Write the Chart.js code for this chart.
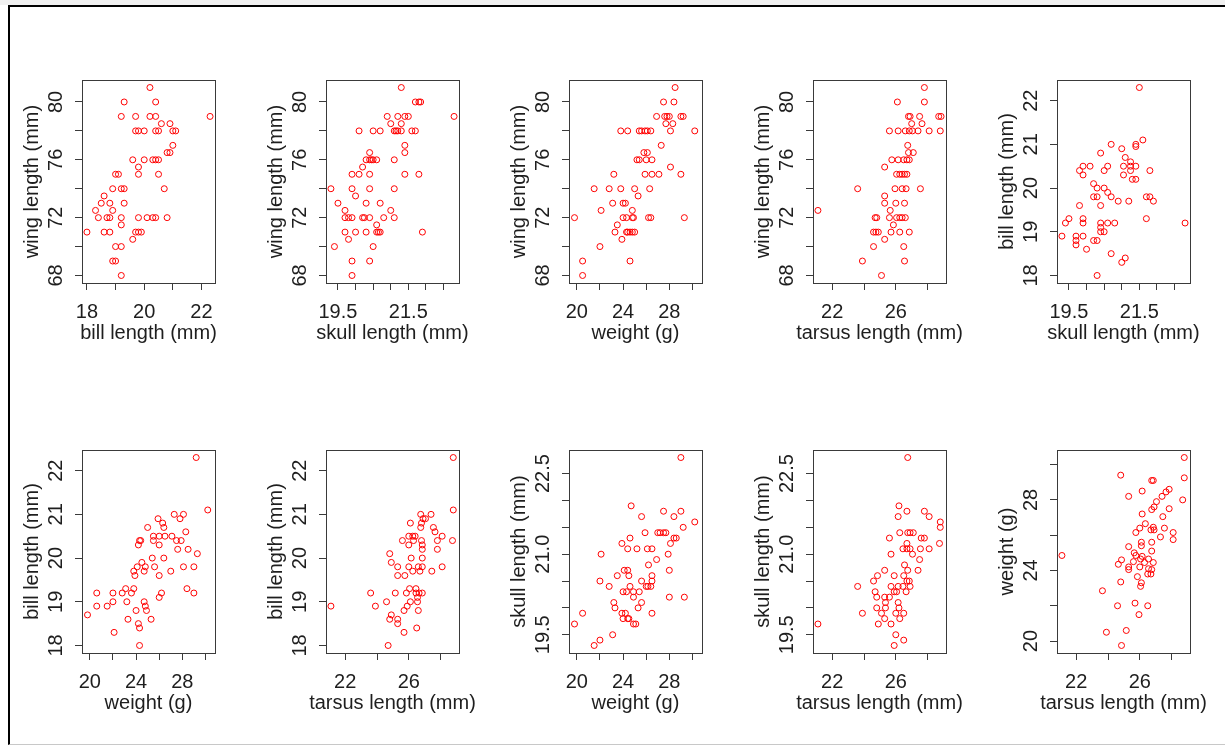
<!DOCTYPE html>
<html>
<head>
<meta charset="utf-8">
<script src="https://cdn.jsdelivr.net/npm/chart.js@4.4.0/dist/chart.umd.min.js"></script>
<style>
  html, body { margin: 0; padding: 0; background: #fff; }
  #page { position: relative; width: 1225px; height: 746px; overflow: hidden; background: #fff; }
  #band { position: absolute; left: 0; top: 0; width: 1225px; height: 5px; background: #f0f0f0; }
  #frame { position: absolute; left: 8px; top: 5px; width: 1217px; height: 740px; box-sizing: border-box;
           border-left: 2px solid #000; border-top: 2px solid #000; border-bottom: 1px solid #c8c8c8; }
  canvas { position: absolute; }
</style>
</head>
<body>
<div id="page"><div id="band"></div><div id="frame"></div></div>
<script>
// panel 1: bill vs wing
const bill1 = [20.2,
  19.3, 20.4,
  19.2, 19.7, 20.2, 20.4, 22.3,
  20.6, 20.9,
  19.7, 19.8, 20.0, 20.4, 20.5, 21.0, 21.1,
  21.0,
  20.8, 20.9,
  19.6, 20.0, 20.3, 20.4, 20.5,
  19.8,
  19.0, 19.1, 19.8, 20.5,
  18.9, 19.2, 19.3, 20.7,
  18.6,
  18.5, 18.8, 19.3,
  18.3, 18.9,
  18.4, 18.7, 18.8, 19.2, 19.8, 20.1, 20.3, 20.4, 20.8,
  19.2,
  18.0, 18.6, 18.8, 19.7, 19.8, 19.9,
  19.6,
  19.0, 19.2,
  18.9, 19.0,
  19.2];
const wing1 = [81,
  80, 80,
  79, 79, 79, 79, 79,
  78.5, 78.5,
  78, 78, 78, 78, 78, 78, 78,
  77,
  76.5, 76.5,
  76, 76, 76, 76, 76,
  75.5,
  75, 75, 75, 75,
  74, 74, 74, 74,
  73.5,
  73, 73, 73,
  72.5, 72.5,
  72, 72, 72, 72, 72, 72, 72, 72, 72,
  71.5,
  71, 71, 71, 71, 71, 71,
  70.5,
  70, 70,
  69, 69,
  68];

// panel 2: skull vs wing
const skull2 = [21.3,
  21.7, 21.8, 21.85,
  20.9, 21.2, 21.4, 21.5, 22.8,
  21.0, 21.3,
  20.1, 20.5, 20.7, 21.1, 21.15, 21.2, 21.3, 21.6, 21.7,
  21.4,
  21.4, 20.4,
  20.3, 20.4, 20.45, 20.5, 20.6, 21.1,
  20.2,
  19.9, 20.1, 20.4, 21.4, 21.8,
  19.3, 19.9, 20.4, 21.1,
  20.0,
  19.5, 20.3, 20.7,
  19.7, 21.0,
  19.7, 19.8, 19.9, 20.2, 20.25, 20.4, 20.8, 21.1,
  20.6,
  19.7, 20.0, 20.3, 20.6, 20.65, 20.7, 21.9,
  19.8,
  19.4, 20.5,
  19.9, 20.4,
  19.9];
const wing2 = [81,
  80, 80, 80,
  79, 79, 79, 79, 79,
  78.5, 78.5,
  78, 78, 78, 78, 78, 78, 78, 78, 78,
  77,
  76.5, 76.5,
  76, 76, 76, 76, 76, 76,
  75.5,
  75, 75, 75, 75, 75,
  74, 74, 74, 74,
  73.5,
  73, 73, 73,
  72.5, 72.5,
  72, 72, 72, 72, 72, 72, 72, 72,
  71.5,
  71, 71, 71, 71, 71, 71, 71,
  70.5,
  70, 70,
  69, 69,
  68];

// panel 3: weight vs wing
const weight3 = [28.5,
  27.5, 28.4,
  26.9, 27.6, 27.8, 28.0, 29.0, 29.2,
  27.7, 28.3,
  23.8, 24.4, 25.4, 25.6, 25.9, 26.1, 26.4, 28.1, 30.2,
  27.3,
  25.8, 26.1,
  25.2, 25.4, 26.0, 26.5,
  28.1,
  23.2, 25.9, 26.5, 27.1, 29.0,
  21.5, 22.8, 23.8, 25.0, 26.3,
  25.3,
  23.1, 24.0, 24.2,
  22.1, 24.8,
  19.8, 24.0, 24.3, 24.8, 24.9, 26.2, 26.4, 29.3,
  23.5,
  23.3, 24.3, 24.4, 24.6, 24.8, 25.0,
  23.9,
  22.0,
  20.5, 24.6,
  20.5];
const wing3 = [81,
  80, 80,
  79, 79, 79, 79, 79, 79,
  78.5, 78.5,
  78, 78, 78, 78, 78, 78, 78, 78, 78,
  77,
  76.5, 76.5,
  76, 76, 76, 76,
  75.5,
  75, 75, 75, 75, 75,
  74, 74, 74, 74, 74,
  73.5,
  73, 73, 73,
  72.5, 72.5,
  72, 72, 72, 72, 72, 72, 72, 72,
  71.5,
  71, 71, 71, 71, 71, 71,
  70.5,
  70,
  69, 69,
  68];

// panel 4: tarsus vs wing
const tarsus4 = [27.8,
  26.1, 27.8,
  26.8, 26.9, 27.5, 28.7, 28.85,
  27.0, 27.65,
  25.6, 26.15, 26.6, 26.85, 27.05, 27.4, 28.1, 28.8,
  26.75,
  26.8, 27.1,
  25.75, 26.15, 26.5, 26.7, 26.85,
  25.3,
  26.05, 26.25, 26.4, 26.55, 26.7,
  23.6, 25.95, 26.4, 26.65, 27.55,
  25.3,
  25.3, 26.0, 26.55,
  21.1, 25.65,
  24.7, 24.8, 25.6, 26.05, 26.25, 26.4, 26.6,
  25.85,
  24.6, 24.75, 24.9, 25.7, 26.25, 26.85,
  25.3,
  24.6, 26.5,
  23.9, 26.55,
  25.1];
const wing4 = [81,
  80, 80,
  79, 79, 79, 79, 79,
  78.5, 78.5,
  78, 78, 78, 78, 78, 78, 78, 78,
  77,
  76.5, 76.5,
  76, 76, 76, 76, 76,
  75.5,
  75, 75, 75, 75, 75,
  74, 74, 74, 74, 74,
  73.5,
  73, 73, 73,
  72.5, 72.5,
  72, 72, 72, 72, 72, 72, 72,
  71.5,
  71, 71, 71, 71, 71, 71,
  70.5,
  70, 70,
  69, 69,
  68];

// panel 5: skull vs bill
const skull5 = [21.5, 21.6, 20.7, 21.4, 21.4, 21.0, 20.4, 21.1, 21.25,
  19.9, 20.1, 20.6, 21.05, 21.25, 21.4,
  19.8, 20.5, 21.25, 21.8,
  19.9, 21.05,
  21.3, 21.4,
  20.2, 20.3, 20.5, 20.6,
  20.2, 20.3, 20.7, 21.7, 21.8,
  20.9, 21.2, 21.9,
  19.8, 20.4,
  19.5, 19.9, 21.7,
  19.4, 19.9, 20.4, 20.6, 20.8, 22.8,
  20.4, 20.4, 20.5,
  19.3, 19.7, 19.9,
  19.7, 20.2, 20.3,
  19.7, 20.0, 20.7, 21.1, 21.0, 20.3];
const bill5 = [22.3, 21.1, 21.0, 21.0, 20.95, 20.9, 20.8, 20.7, 20.6,
  20.5, 20.5, 20.5, 20.5, 20.5, 20.5,
  20.4, 20.4, 20.4, 20.4,
  20.3, 20.3,
  20.2, 20.2,
  20.1, 20.0, 20.0, 19.9,
  19.8, 19.8, 19.8, 19.8, 19.8,
  19.7, 19.7, 19.7,
  19.6, 19.6,
  19.3, 19.3, 19.3,
  19.2, 19.2, 19.2, 19.2, 19.2, 19.2,
  19.1, 19.0, 19.0,
  18.9, 18.9, 18.9,
  18.8, 18.8, 18.8,
  18.7, 18.6, 18.5, 18.4, 18.3, 18.0];

// panel 6: weight vs bill
const weight6 = [29.2, 30.2, 27.3, 28.1, 25.9, 27.8, 26.3, 26.4, 25.0, 28.3,
  25.5, 26.0, 26.5, 27.1,
  24.3, 24.4, 25.5, 27.5, 27.9,
  24.2, 26.0,
  27.6, 28.5, 29.3,
  25.4, 26.4, 24.5,
  24.1, 24.8, 25.6, 28.1, 29.0,
  23.8, 24.7, 27.0,
  23.9, 26.0,
  23.1, 23.8, 28.4,
  20.6, 22.0, 22.8, 23.6, 26.2, 29.0,
  26.0,
  22.0, 23.2, 24.7,
  20.6, 21.5, 24.8,
  24.0, 24.9,
  19.8, 23.3, 25.3, 24.2, 24.3, 22.1, 24.3];
const bill6 = [22.3, 21.1, 21.0, 21.0, 20.9, 20.9, 20.8, 20.7, 20.7, 20.6,
  20.5, 20.5, 20.5, 20.5,
  20.4, 20.4, 20.4, 20.4, 20.4,
  20.3, 20.3,
  20.2, 20.2, 20.1,
  20.0, 20.0, 19.9,
  19.8, 19.8, 19.8, 19.8, 19.8,
  19.7, 19.7, 19.7,
  19.6, 19.6,
  19.3, 19.3, 19.3,
  19.2, 19.2, 19.2, 19.2, 19.2, 19.2,
  19.1,
  19.0, 19.0, 19.0,
  18.9, 18.9, 18.9,
  18.8, 18.8,
  18.7, 18.6, 18.6, 18.5, 18.4, 18.3, 18.0];

// panel 7: tarsus vs bill
const tarsus7 = [28.8, 28.8, 26.75, 27.4, 26.9, 27.05, 26.1, 26.8, 26.75, 27.55, 27.65,
  26.0, 26.25, 26.4, 28.1,
  25.6, 26.3, 26.8, 27.8, 28.75,
  26.0, 26.85,
  26.85, 27.8,
  24.8, 26.15, 26.85, 24.9,
  25.3, 26.0, 26.6, 26.85, 28.1,
  26.25, 26.7, 27.45,
  25.3, 25.75,
  26.05, 26.45,
  23.6, 25.15, 25.85, 26.45, 26.65, 26.85,
  26.55,
  24.6, 26.1, 26.55,
  21.1, 23.9, 25.9,
  25.7, 26.6,
  24.9, 24.8, 25.3, 25.3, 26.5, 25.7, 24.7];
const bill7 = [22.3, 21.1, 21.0, 21.0, 20.9, 20.9, 20.8, 20.8, 20.7, 20.7, 20.6,
  20.5, 20.5, 20.5, 20.5,
  20.4, 20.4, 20.4, 20.4, 20.4,
  20.3, 20.3,
  20.2, 20.2,
  20.1, 20.0, 20.0, 19.9,
  19.8, 19.8, 19.8, 19.8, 19.8,
  19.7, 19.7, 19.7,
  19.6, 19.6,
  19.3, 19.3,
  19.2, 19.2, 19.2, 19.2, 19.2, 19.2,
  19.1,
  19.0, 19.0, 19.0,
  18.9, 18.9, 18.9,
  18.8, 18.8,
  18.7, 18.6, 18.6, 18.5, 18.4, 18.3, 18.0];

// panel 8: weight vs skull
const weight8 = [29.0, 24.7, 27.5, 29.0, 25.6, 28.4, 30.2, 29.2,
  25.9, 27.0, 27.2, 27.5, 27.7,
  24.6, 28.4, 28.6,
  23.9, 28.1,
  24.4, 25.2, 26.1, 26.5,
  22.1, 27.9, 26.9, 26.2,
  24.1, 24.4, 28.0,
  23.5, 24.5, 26.5,
  22.0, 25.6, 26.5,
  22.8, 24.6, 26.0, 26.15, 26.4,
  24.0, 24.3, 24.9, 25.4,
  24.9, 28.0, 29.3,
  23.2, 25.6,
  23.3, 25.3,
  20.5, 23.9, 24.2, 26.5,
  24.0, 24.4, 24.5,
  19.8, 24.9, 25.1,
  23.1, 22.0, 21.5];
const skull8 = [22.8, 21.9, 21.8, 21.8, 21.7, 21.7, 21.6, 21.5,
  21.4, 21.4, 21.4, 21.4, 21.4,
  21.3, 21.3, 21.3,
  21.2, 21.2,
  21.1, 21.1, 21.1, 21.1,
  21.0, 21.0, 20.9, 20.8,
  20.7, 20.7, 20.7,
  20.6, 20.6, 20.6,
  20.5, 20.5, 20.5,
  20.4, 20.4, 20.4, 20.4, 20.4,
  20.3, 20.3, 20.3, 20.3,
  20.2, 20.2, 20.2,
  20.1, 20.1,
  20.0, 20.0,
  19.9, 19.9, 19.9, 19.9,
  19.8, 19.8, 19.8,
  19.7, 19.7, 19.7,
  19.5, 19.4, 19.3];

// panel 9: tarsus vs skull
const tarsus9 = [26.75, 26.2, 26.7, 27.8, 26.15, 28.1, 28.8, 28.8,
  26.25, 26.75, 26.9, 27.1,
  25.6, 27.6, 27.8,
  26.7, 28.75,
  26.45, 26.7, 26.9, 27.55, 28.1,
  25.7, 27.05, 27.5, 26.55,
  25.3, 26.75, 27.4,
  24.85, 25.9, 26.5,
  24.6, 26.7, 26.85,
  23.6, 25.7, 26.15, 26.45, 26.9,
  24.7, 25.9, 26.05, 26.65,
  24.8, 25.3, 25.6,
  25.35, 26.15,
  24.8, 25.35, 26.2,
  23.9, 25.1, 26.0, 26.5,
  25.3, 26.25,
  21.1, 24.9, 25.7,
  26.0, 26.5, 25.9];
const skull9 = [22.8, 21.9, 21.8, 21.8, 21.7, 21.7, 21.6, 21.5,
  21.4, 21.4, 21.4, 21.4,
  21.3, 21.3, 21.3,
  21.2, 21.2,
  21.1, 21.1, 21.1, 21.1, 21.1,
  21.0, 21.0, 20.9, 20.8,
  20.7, 20.7, 20.7,
  20.6, 20.6, 20.6,
  20.5, 20.5, 20.5,
  20.4, 20.4, 20.4, 20.4, 20.4,
  20.3, 20.3, 20.3, 20.3,
  20.2, 20.2, 20.2,
  20.1, 20.1,
  20.0, 20.0, 20.0,
  19.9, 19.9, 19.9, 19.9,
  19.8, 19.8,
  19.7, 19.7, 19.7,
  19.5, 19.4, 19.3];

// panel 10: tarsus vs weight
const tarsus10 = [28.8, 24.8, 26.75, 26.85, 28.8, 27.85, 27.65, 26.15, 25.3, 27.4,
  28.7, 27.05, 26.9, 26.75, 27.85, 26.15, 27.45, 26.35, 26.0, 27.55,
  26.85, 26.7, 26.9, 25.75, 28.1, 28.1, 27.3, 26.1, 26.1, 26.75,
  25.3, 26.75, 25.65, 25.75, 21.1, 26.15, 24.85, 26.05, 26.3, 26.55,
  25.6, 26.85, 24.65, 25.3, 25.3, 26.0, 26.55, 26.75, 26.5, 26.7,
  25.85, 24.8, 26.1, 26.05, 23.65, 24.6, 25.7, 26.5, 25.95, 23.9,
  25.15, 24.85];
const weight10 = [30.4, 29.4, 29.1, 29.1, 29.25, 28.6, 28.45, 28.5, 28.2, 28.2,
  28.0, 27.9, 27.6, 27.45, 27.5, 27.2, 27.05, 26.65, 26.4, 26.4,
  26.45, 26.3, 26.3, 26.15, 26.15, 25.75, 25.9, 25.6, 25.4, 25.6,
  25.35, 25.1, 25.0, 24.85, 24.85, 24.8, 24.6, 24.65, 24.45, 24.65,
  24.5, 24.45, 24.35, 24.2, 24.05, 24.2, 24.1, 24.05, 23.8, 23.8,
  23.65, 23.35, 23.3, 23.1, 22.85, 22.0, 22.15, 22.0, 21.5, 20.5,
  20.6, 19.75];

// axis ticks and the labels R kept
const wingTicks = [68, 70, 72, 74, 76, 78, 80];
const wingLabels = ['68', '', '72', '', '76', '', '80'];
const billTicks = [18, 19, 20, 21, 22];
const billXLabels = ['18', '', '20', '', '22'];
const billYLabels = ['18', '19', '20', '21', '22'];
const skullTicks = [19.5, 20, 20.5, 21, 21.5, 22, 22.5];
const skullXLabels = ['19.5', '', '', '', '21.5', '', ''];
const skullYLabels = ['19.5', '', '', '21.0', '', '', '22.5'];
const weightTicks = [20, 22, 24, 26, 28, 30];
const weightLabels = ['20', '', '24', '', '28', ''];
const tarsusTicks = [22, 24, 26, 28];
const tarsusLabels = ['22', '', '26', ''];

const vars = {
  wing:   { title: 'wing length (mm)',   ticks: wingTicks,   xl: wingLabels,   yl: wingLabels,   data: [wing1, wing2, wing3, wing4] },
  bill:   { title: 'bill length (mm)',   ticks: billTicks,   xl: billXLabels,  yl: billYLabels,  data: [bill1, bill5, bill6, bill7] },
  skull:  { title: 'skull length (mm)',  ticks: skullTicks,  xl: skullXLabels, yl: skullYLabels, data: [skull2, skull5, skull8, skull9] },
  weight: { title: 'weight (g)',         ticks: weightTicks, xl: weightLabels, yl: weightLabels, data: [weight3, weight6, weight8, weight10] },
  tarsus: { title: 'tarsus length (mm)', ticks: tarsusTicks, xl: tarsusLabels, yl: tarsusLabels, data: [tarsus4, tarsus7, tarsus9, tarsus10] }
};

const panels = [
  [bill1, wing1, 'bill', 'wing'], [skull2, wing2, 'skull', 'wing'], [weight3, wing3, 'weight', 'wing'],
  [tarsus4, wing4, 'tarsus', 'wing'], [skull5, bill5, 'skull', 'bill'],
  [weight6, bill6, 'weight', 'bill'], [tarsus7, bill7, 'tarsus', 'bill'], [weight8, skull8, 'weight', 'skull'],
  [tarsus9, skull9, 'tarsus', 'skull'], [tarsus10, weight10, 'tarsus', 'weight']
];

const FAMILY = '"Liberation Sans", Arial, Helvetica, sans-serif';
const FONT = { family: FAMILY, size: 20 };
const INK = '#1e1e1e';
const LINE = '#3a3a3a';
const colLeft = [82, 326, 569, 813, 1057];
const rowTop = [80, 450];
const BOX_W = 133, BOX_H = 203, Y_W = 62, X_H = 62, PAD = 8, PAD_R = 30;

// R's default axis range: data range stretched 4% each side
function range(arrs) {
  const all = [].concat(...arrs);
  const lo = Math.min(...all), hi = Math.max(...all);
  const d = (hi - lo) * 0.04;
  return [lo - d, hi + d];
}

const meas = document.createElement('canvas').getContext('2d');
meas.font = '20px ' + FAMILY;
function widest(labels) {
  return Math.max(...labels.map(s => meas.measureText(s).width));
}

function axis(v, pos) {
  const [min, max] = range(v.data);
  const horiz = pos === 'bottom';
  const labels = horiz ? v.xl : v.yl;
  return {
    type: 'linear', position: pos, min, max, bounds: 'data',
    afterBuildTicks: s => { s.ticks = v.ticks.map(t => ({ value: t })); },
    afterFit: s => {
      if (horiz) { s.height = X_H; s.paddingLeft = 0; s.paddingRight = 0; }
      else { s.width = Y_W; s.paddingTop = 0; s.paddingBottom = 0; }
    },
    ticks: horiz
      ? { autoSkip: false, minRotation: 0, maxRotation: 0, padding: 10, font: FONT, color: INK,
          callback: (val, i) => labels[i] }
      : { autoSkip: false, minRotation: 90, maxRotation: 90, crossAlign: 'center',
          padding: 19 - widest(labels) / 2, font: FONT, color: INK,
          callback: (val, i) => labels[i] },
    grid: { drawOnChartArea: false, drawTicks: true, tickLength: 7, color: LINE, lineWidth: 1 },
    border: { display: true, color: LINE, width: 1 },
    // the x title is drawn by the frame plugin so it is not squeezed to the box width
    title: { display: !horiz, text: v.title, font: FONT, color: INK, padding: 0 },
    xTitle: v.title
  };
}

const framePlugin = {
  id: 'frame',
  afterDraw(chart) {
    const { ctx, chartArea: a } = chart;
    ctx.save();
    ctx.strokeStyle = LINE;
    ctx.lineWidth = 1;
    ctx.strokeRect(Math.round(a.left) + 0.5, Math.round(a.top) + 0.5,
      Math.round(a.right - a.left), Math.round(a.bottom - a.top));
    ctx.fillStyle = INK;
    ctx.font = '20px ' + FAMILY;
    ctx.textAlign = 'center';
    ctx.textBaseline = 'middle';
    ctx.fillText(chart.options.scales.x.xTitle, (a.left + a.right) / 2, a.bottom + 50);
    ctx.restore();
  }
};

const page = document.getElementById('page');
panels.forEach(([xs, ys, xv, yv], k) => {
  const cv = document.createElement('canvas');
  cv.width = Y_W + BOX_W + PAD_R;
  cv.height = PAD + BOX_H + X_H;
  cv.style.left = (colLeft[k % 5] - Y_W) + 'px';
  cv.style.top = (rowTop[Math.floor(k / 5)] - PAD) + 'px';
  page.appendChild(cv);
  new Chart(cv, {
    type: 'scatter',
    data: {
      datasets: [{
        data: xs.map((x, i) => ({ x: x, y: ys[i] })),
        pointStyle: 'circle',
        pointRadius: 3,
        pointHoverRadius: 3,
        pointBorderWidth: 1,
        pointBorderColor: '#ff0000',
        pointBackgroundColor: 'rgba(0,0,0,0)',
        borderColor: '#ff0000',
        showLine: false
      }]
    },
    options: {
      responsive: false,
      animation: false,
      events: [],
      layout: { autoPadding: false, padding: { top: PAD, right: PAD_R, left: 0, bottom: 0 } },
      plugins: { legend: { display: false }, tooltip: { enabled: false } },
      scales: { x: axis(vars[xv], 'bottom'), y: axis(vars[yv], 'left') }
    },
    plugins: [framePlugin]
  });
});
</script>
</body>
</html>
